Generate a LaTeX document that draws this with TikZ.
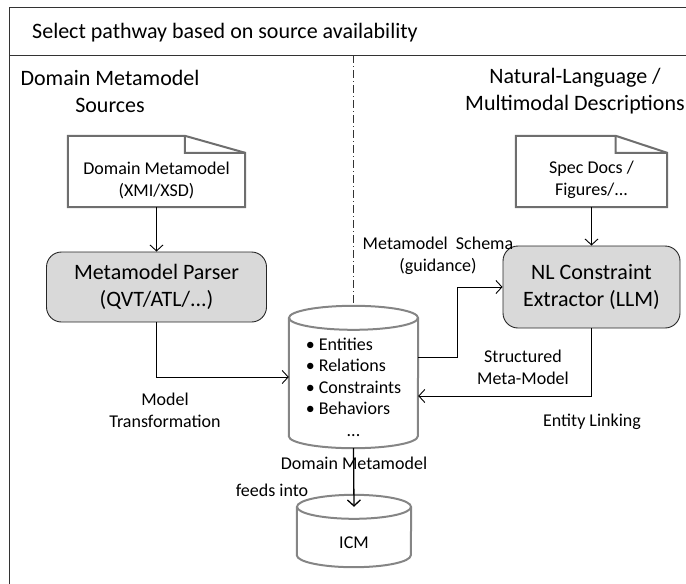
\documentclass[tikz,border=0pt]{standalone}
\usepackage{fontspec}
\setmainfont{Carlito}
\usepackage{tikz}
\usetikzlibrary{arrows.meta}
\usetikzlibrary{calc}

\definecolor{boxgray}{HTML}{D9D9D9}
\definecolor{docgray}{HTML}{6E6E6E}
\definecolor{dbgray}{HTML}{858585}

% hoja con esquina doblada (el nodo es la parte bajo el pliegue)
\newcommand{\docframe}[1]{%
  \draw[docline] ([yshift=17pt]#1.north west) -- ($(#1.north west)!0.66!(#1.north east)+(0pt,17pt)$)
    -- (#1.north east) -- (#1.south east) -- (#1.south west) -- cycle;
  \draw[docline] ($(#1.north west)!0.66!(#1.north east)+(0pt,17pt)$)
    -- ($(#1.north west)!0.66!(#1.north east)$) -- (#1.north east);}

% cilindro: nombre, radio x, radio y
\newcommand{\dbframe}[3]{%
  \draw[dbline] ([yshift=#3]#1.north west) -- ([yshift=#3]#1.south west)
    arc[start angle=180, end angle=360, x radius=#2, y radius=#3] -- ([yshift=#3]#1.north east);
  \draw[dbline] ([yshift=#3]#1.north) ellipse [x radius=#2, y radius=#3];}

\begin{document}
\begin{tikzpicture}[x=1pt, y=-1pt,
    every node/.style={inner sep=0pt},
    headtext/.style={font=\fontsize{22}{27}\selectfont, align=center},
    labeltext/.style={font=\fontsize{18}{22}\selectfont, align=center},
    docnode/.style={minimum height=54pt, align=center, font=\fontsize{18}{22}\selectfont},
    procbox/.style={draw=black!85, fill=boxgray, rounded corners=15pt, line width=0.9pt,
      align=center, font=\fontsize{22}{27}\selectfont},
    dbnode/.style={font=\fontsize{18}{21.5}\selectfont},
    docline/.style={draw=docgray, line width=2pt},
    dbline/.style={draw=dbgray, line width=2pt},
    flow/.style={-{Straight Barb[length=6pt,width=13pt]}, line width=0.9pt},
    frameline/.style={draw=black!80, line width=1pt},
    divider/.style={draw=black!80, line width=0.8pt, dash pattern=on 8pt off 3pt on 1pt off 3pt}]
  \useasboundingbox (0,0) rectangle (686,584);

  % Marco
  \draw[frameline] (686,7) -- (9,7) -- (9,584);
  \draw[frameline] (9,55) -- (686,55);
  \draw[divider] (353,55) -- (353,303);

  % Titulos
  \node[headtext, anchor=west] (title) at (32,33) {Select pathway based on source availability};
  \node[headtext] (srcleft) at (110,91.5) {Domain Metamodel\\Sources};
  \node[headtext] (srcright) at (575,91.5) {Natural-Language /\\Multimodal Descriptions};

  % Nodos
  \node[docnode, minimum width=177pt] (mmfile) at (156.5,180) {Domain Metamodel\\(XMI/XSD)};
  \node[docnode, minimum width=151pt] (specs) at (591.5,180) {Spec Docs /\\Figures/...};
  \node[procbox, minimum width=220pt, minimum height=70pt] (parser) at (156.5,287) {Metamodel Parser\\(QVT/ATL/...)};
  \node[procbox, minimum width=177pt, minimum height=82pt] (nlx) at (591.5,287) {NL Constraint\\Extractor (LLM)};
  \node[dbnode, minimum width=129pt, minimum height=118pt] (dmm) at (353.5,389) {%
    \begin{tabular}{@{}l@{}}
      \textbullet\ Entities\\
      \textbullet\ Relations\\
      \textbullet\ Constraints\\
      \textbullet\ Behaviors\\
      \multicolumn{1}{@{}c@{}}{...}
    \end{tabular}};
  \node[dbnode, minimum width=114pt, minimum height=48pt] (icm) at (354,543) {ICM};

  \docframe{mmfile}
  \docframe{specs}
  \dbframe{dmm}{64.5pt}{12pt}
  \dbframe{icm}{57pt}{12pt}

  % Etiquetas
  \node[labeltext] (lbltrans) at (165,410) {Model\\Transformation};
  \node[labeltext] (lblschema) at (438,256) {Metamodel~~Schema\\(guidance)};
  \node[labeltext] (lblstruct) at (523,367) {Structured\\Meta-Model};
  \node[labeltext] (lbllink) at (592,422) {Entity Linking};
  \node[labeltext] (lbldmm) at (354,463) {Domain Metamodel};
  \node[labeltext] (lblfeeds) at (272,490) {feeds into};

  % Aristas
  \draw[flow] (mmfile.south) -- (parser.north);
  \draw[flow] (specs.south) -- (nlx.north);
  \draw[flow] (parser.south) |- ([yshift=12pt]dmm.west);
  \draw[flow] ([yshift=32pt]dmm.east) -- ++(39,0) |- (nlx.west);
  \draw[flow] (nlx.south) |- ([yshift=-7pt]dmm.east);
  \draw[flow, line width=1.3pt] (dmm.south) -- ([yshift=12pt]icm.north);
\end{tikzpicture}
\end{document}
